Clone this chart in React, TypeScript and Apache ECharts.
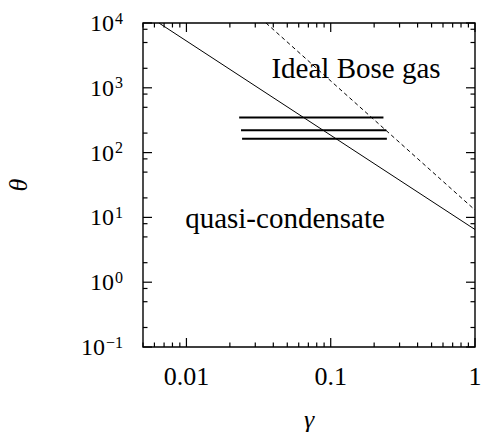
import React, { useEffect, useRef } from "react";
import * as echarts from "echarts";

const X_MIN = 0.005;
const X_MAX = 1;
const Y_MIN = 0.1;
const Y_MAX = 10000;

const xMajorTicks = [0.01, 0.1, 1];
const xTickLabels = ["0.01", "0.1", "1"];
const xMinorTicks = [
  0.005, 0.006, 0.007, 0.008, 0.009,
  0.02, 0.03, 0.04, 0.05, 0.06, 0.07, 0.08, 0.09,
  0.2, 0.3, 0.4, 0.5, 0.6, 0.7, 0.8, 0.9,
];
const yMajorTicks = [0.1, 1, 10, 100, 1000, 10000];
const yTickExponents = ["−1", "0", "1", "2", "3", "4"];
const yMinorTicks = [
  0.2, 0.5, 0.8, 2, 5, 8, 20, 50, 80, 200, 500, 800, 2000, 5000, 8000,
];

// boundary lines (gamma, theta)
const solidLine = [
  [0.00645, 10000],
  [1, 6.5],
];
const dashedLine = [
  [0.0356, 10000],
  [1, 13],
];
const bar1 = [
  [0.0232, 347],
  [0.232, 347],
];
const bar2 = [
  [0.0239, 222],
  [0.2427, 222],
];
const bar3 = [
  [0.0243, 164],
  [0.245, 164],
];

const FONT = "'Liberation Serif', 'DejaVu Serif', serif";
const MAJOR_LEN = 9;
const MINOR_LEN = 4.5;

export default function App() {
  const ref = useRef<HTMLDivElement>(null);
  useEffect(() => {
    if (!ref.current) return;
    const chart = echarts.init(ref.current, null, { renderer: "svg" });

    const textGraphics = [
      {
        type: "text",
        x: 356,
        y: 68,
        style: {
          text: "Ideal Bose gas",
          fontFamily: FONT,
          fontSize: 29,
          fill: "#000",
          align: "center",
          verticalAlign: "middle",
        },
      },
      {
        type: "text",
        x: 285,
        y: 218,
        style: {
          text: "quasi-condensate",
          fontFamily: FONT,
          fontSize: 29,
          fill: "#000",
          align: "center",
          verticalAlign: "middle",
        },
      },
    ];

    const option: any = {
      animation: false,
      backgroundColor: "#fff",
      grid: {
        left: 143,
        right: 8,
        top: 23,
        bottom: 85,
        containLabel: false,
        outerBoundsMode: "none",
        show: true,
        borderColor: "#000",
        borderWidth: 1.4,
        backgroundColor: "transparent",
      },
      xAxis: {
        type: "log",
        min: X_MIN,
        max: X_MAX,
        position: "bottom",
        axisLine: { show: false },
        axisTick: { show: false },
        splitLine: { show: false },
        minorTick: { show: false },
        name: "γ",
        nameLocation: "middle",
        nameGap: 59,
        nameTextStyle: { fontFamily: FONT, fontSize: 26, fontStyle: "italic", color: "#000" },
        axisLabel: {
          show: true,
          customValues: xMajorTicks,
          margin: 16,
          fontFamily: FONT,
          fontSize: 26,
          color: "#000",
          formatter: (v: number) => {
            const i = xMajorTicks.findIndex((t) => Math.abs(t - v) < t * 1e-6);
            return i >= 0 ? xTickLabels[i] : "";
          },
        },
      },
      yAxis: {
        type: "log",
        min: Y_MIN,
        max: Y_MAX,
        position: "left",
        axisLine: { show: false },
        axisTick: { show: false },
        splitLine: { show: false },
        minorTick: { show: false },
        name: "θ",
        nameLocation: "middle",
        nameGap: 112,
        nameTextStyle: { fontFamily: FONT, fontSize: 26, fontStyle: "italic", color: "#000" },
        axisLabel: {
          show: true,
          customValues: yMajorTicks,
          margin: 20,
          fontFamily: FONT,
          color: "#000",
          formatter: (v: number) => {
            const i = yMajorTicks.findIndex((t) => Math.abs(t - v) < t * 1e-6);
            return i >= 0 ? `{b|10}{s|${yTickExponents[i]}}` : "";
          },
          rich: {
            b: { fontFamily: FONT, fontSize: 24, color: "#000" },
            s: { fontFamily: FONT, fontSize: 16, color: "#000", padding: [0, 0, 10, 1] },
          },
        },
      },
      graphic: textGraphics,
      series: [
        {
          type: "line",
          data: solidLine,
          symbol: "none",
          lineStyle: { color: "#000", width: 1 },
        },
        {
          type: "line",
          data: dashedLine,
          symbol: "none",
          lineStyle: { color: "#000", width: 1, type: [4, 3] },
        },
        ...[bar1, bar2, bar3].map((d) => ({
          type: "line",
          data: d,
          symbol: "none",
          lineStyle: { color: "#000", width: 2 },
        })),
      ],
    };
    chart.setOption(option);

    // tick marks placed through the chart's own log scales
    const tickStyle = { stroke: "#000", lineWidth: 1.2 };
    const ticks: any[] = [];
    const px = (p: number[]) => chart.convertToPixel({ gridIndex: 0 }, p) as number[];
    const addX = (list: number[], len: number) => {
      list.forEach((v) => {
        const b = px([v, Y_MIN]);
        const t = px([v, Y_MAX]);
        ticks.push({ type: "line", z: 100, shape: { x1: b[0], y1: b[1], x2: b[0], y2: b[1] - len }, style: tickStyle });
        ticks.push({ type: "line", z: 100, shape: { x1: t[0], y1: t[1], x2: t[0], y2: t[1] + len }, style: tickStyle });
      });
    };
    const addY = (list: number[], len: number) => {
      list.forEach((v) => {
        const l = px([X_MIN, v]);
        const r = px([X_MAX, v]);
        ticks.push({ type: "line", z: 100, shape: { x1: l[0], y1: l[1], x2: l[0] + len, y2: l[1] }, style: tickStyle });
        ticks.push({ type: "line", z: 100, shape: { x1: r[0], y1: r[1], x2: r[0] - len, y2: r[1] }, style: tickStyle });
      });
    };
    addX(xMajorTicks, MAJOR_LEN);
    addX(xMinorTicks, MINOR_LEN);
    addY(yMajorTicks, MAJOR_LEN);
    addY(yMinorTicks, MINOR_LEN);
    chart.setOption({ graphic: [...textGraphics, ...ticks] });

    return () => chart.dispose();
  }, []);
  return (
    <div
      ref={ref}
      style={{ position: "absolute", left: 0, top: 0, width: 483, height: 432 }}
    />
  );
}
